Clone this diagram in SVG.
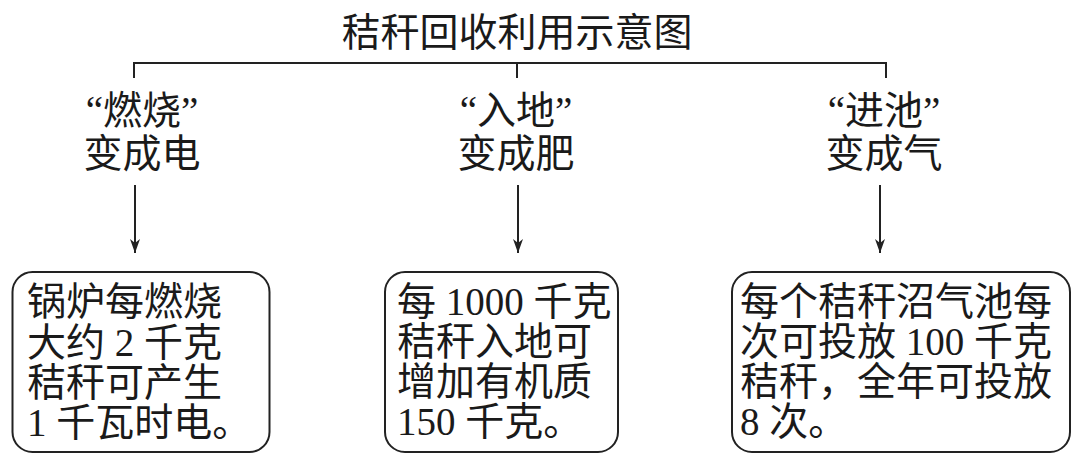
<svg xmlns="http://www.w3.org/2000/svg" width="1084" height="460" viewBox="0 0 1084 460">
<defs>
<style>
.t{font-family:"Liberation Serif","Noto Sans CJK SC",serif;font-size:39px;fill:#1a1a1a}
.c{text-anchor:middle}
.ln{stroke:#222;stroke-width:2;fill:none}
.box{stroke:#222;stroke-width:2;fill:#fff}
</style>
<marker id="ah" viewBox="0 0 14 10" refX="14" refY="5" markerWidth="14" markerHeight="10" markerUnits="userSpaceOnUse" orient="auto">
<path d="M0,0 L14,5 L0,10 L4,5 z" fill="#222"/>
</marker>
</defs>
<rect width="1084" height="460" fill="#fff"/>
<g id="title"><text class="t c" x="517" y="46">秸秆回收利用示意图</text></g>
<g id="connectors">
<path class="ln" d="M134,78 V63 H886 V78 M517,63 V78"/>
<path class="ln" d="M135,185 V253" marker-end="url(#ah)"/>
<path class="ln" d="M518,185 V253" marker-end="url(#ah)"/>
<path class="ln" d="M880,185 V253" marker-end="url(#ah)"/>
</g>
<g id="label-burn"><text class="t c" x="142" y="124">“燃烧”</text><text class="t c" x="142" y="167">变成电</text></g>
<g id="label-soil"><text class="t c" x="516" y="124">“入地”</text><text class="t c" x="516" y="167">变成肥</text></g>
<g id="label-pool"><text class="t c" x="884" y="124">“进池”</text><text class="t c" x="884" y="167">变成气</text></g>
<g id="box-electric">
<rect class="box" x="12.5" y="272" width="257" height="180" rx="20"/>
<text class="t" x="27" y="315">锅炉每燃烧</text>
<text class="t" x="27" y="356">大约 2 千克</text>
<text class="t" x="27" y="396">秸秆可产生</text>
<text class="t" x="27" y="436">1 千瓦时电。</text>
</g>
<g id="box-fertilizer">
<rect class="box" x="385" y="272" width="233" height="180" rx="20"/>
<text class="t" x="397" y="315">每 1000 千克</text>
<text class="t" x="397" y="355">秸秆入地可</text>
<text class="t" x="397" y="395">增加有机质</text>
<text class="t" x="397" y="435">150 千克。</text>
</g>
<g id="box-gas">
<rect class="box" x="732" y="272" width="338" height="180" rx="20"/>
<text class="t" x="740" y="315">每个秸秆沼气池每</text>
<text class="t" x="740" y="355">次可投放 100 千克</text>
<text class="t" x="740" y="395">秸秆，全年可投放</text>
<text class="t" x="740" y="435">8 次。</text>
</g>
</svg>
